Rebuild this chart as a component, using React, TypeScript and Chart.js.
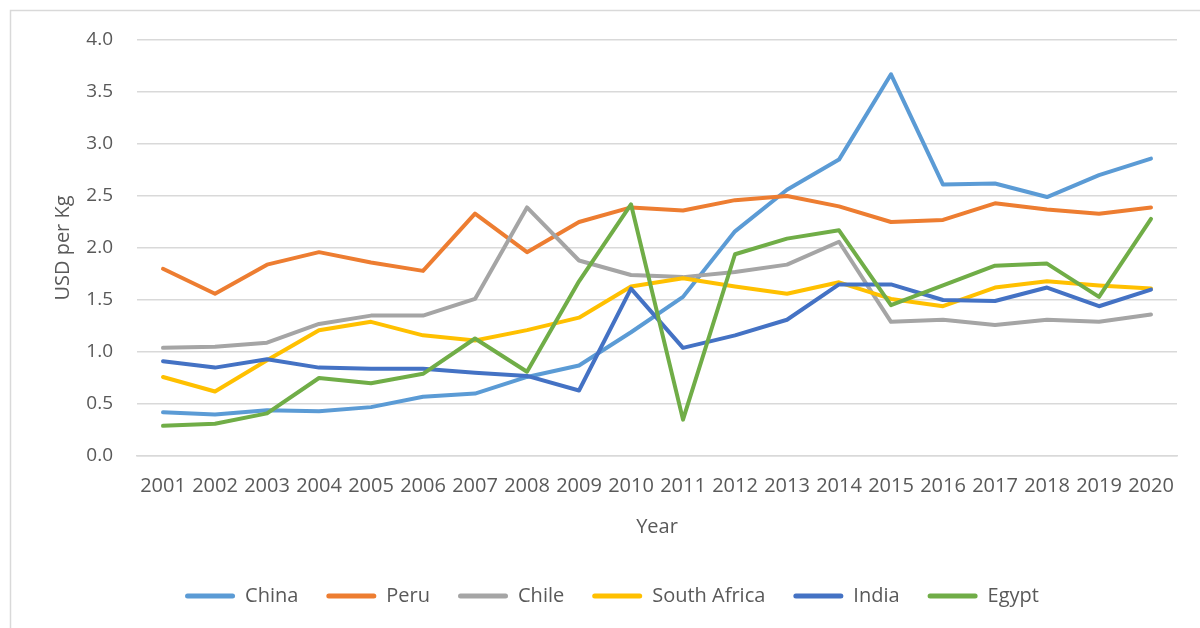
import React, { useEffect, useRef } from "react";
import { Chart, registerables } from "chart.js";

Chart.register(...registerables);

const years = ["2001","2002","2003","2004","2005","2006","2007","2008","2009","2010","2011","2012","2013","2014","2015","2016","2017","2018","2019","2020"];

const china = [0.42, 0.40, 0.44, 0.43, 0.47, 0.57, 0.60, 0.76, 0.87, 1.19, 1.53, 2.16, 2.56, 2.85, 3.67, 2.61, 2.62, 2.49, 2.70, 2.86];
const peru = [1.80, 1.56, 1.84, 1.96, 1.86, 1.78, 2.33, 1.96, 2.25, 2.39, 2.36, 2.46, 2.50, 2.40, 2.25, 2.27, 2.43, 2.37, 2.33, 2.39];
const chile = [1.04, 1.05, 1.09, 1.27, 1.35, 1.35, 1.51, 2.39, 1.88, 1.74, 1.72, 1.77, 1.84, 2.06, 1.29, 1.31, 1.26, 1.31, 1.29, 1.36];
const southAfrica = [0.76, 0.62, 0.92, 1.21, 1.29, 1.16, 1.11, 1.21, 1.33, 1.63, 1.71, 1.63, 1.56, 1.67, 1.51, 1.44, 1.62, 1.68, 1.64, 1.61];
const india = [0.91, 0.85, 0.93, 0.85, 0.84, 0.84, 0.80, 0.77, 0.63, 1.61, 1.04, 1.16, 1.31, 1.65, 1.65, 1.50, 1.49, 1.62, 1.44, 1.60];
const egypt = [0.29, 0.31, 0.41, 0.75, 0.70, 0.79, 1.13, 0.81, 1.68, 2.42, 0.35, 1.94, 2.09, 2.17, 1.45, 1.64, 1.83, 1.85, 1.53, 2.28];

const seriesNames = ["China", "Peru", "Chile", "South Africa", "India", "Egypt"];
const seriesData = [china, peru, chile, southAfrica, india, egypt];
const seriesColors = ["#5B9BD5", "#ED7D31", "#A5A5A5", "#FFC000", "#4472C4", "#70AD47"];

const FONT = "'Open Sans', 'Noto Sans', sans-serif";
const TEXT = "#595959";
const GRID = "#D9D9D9";

const borderPlugin = {
  id: "outerBorder",
  beforeDraw(chart: any) {
    const ctx = chart.ctx;
    ctx.save();
    ctx.fillStyle = "#ffffff";
    ctx.fillRect(0, 0, chart.width, chart.height);
    ctx.strokeStyle = GRID;
    ctx.lineWidth = 1.5;
    ctx.strokeRect(10.5, 10.5, chart.width + 20, chart.height + 20);
    ctx.restore();
  },
};

export default function App() {
  const ref = useRef<HTMLCanvasElement | null>(null);

  useEffect(() => {
    if (!ref.current) return;
    const n = seriesNames.length;
    const chart = new Chart(ref.current, {
      type: "line",
      data: {
        labels: years,
        datasets: seriesNames.map((name, i) => ({
          label: name,
          data: seriesData[i],
          borderColor: seriesColors[i],
          backgroundColor: seriesColors[i],
          borderWidth: 4,
          pointRadius: 0,
          tension: 0,
          borderCapStyle: "round" as const,
          borderJoinStyle: "round" as const,
          fill: false,
          order: n - i,
        })),
      },
      options: {
        animation: false,
        responsive: false,
        maintainAspectRatio: false,
        layout: { padding: { left: 47, right: 23, top: 40, bottom: 12 } },
        plugins: {
          tooltip: { enabled: false },
          legend: {
            position: "bottom",
            labels: {
              color: TEXT,
              font: { family: FONT, size: 20 },
              boxWidth: 50,
              boxHeight: 5,
              padding: 28,
              sort: (a: any, b: any) => a.datasetIndex - b.datasetIndex,
              generateLabels: (c: any) =>
                c.data.datasets.map((ds: any, i: number) => ({
                  text: ds.label,
                  fillStyle: ds.borderColor,
                  strokeStyle: ds.borderColor,
                  lineWidth: 0,
                  fontColor: TEXT,
                  datasetIndex: i,
                  hidden: false,
                  borderRadius: 2.5,
                })),
            },
          },
        },
        scales: {
          x: {
            offset: true,
            grid: { display: false, drawTicks: false },
            border: { display: true, color: GRID, width: 1.5 },
            ticks: {
              color: TEXT,
              font: { family: FONT, size: 20 },
              maxRotation: 0,
              autoSkip: false,
              padding: 18,
            },
            title: {
              display: true,
              text: "Year",
              color: TEXT,
              font: { family: FONT, size: 20 },
              padding: { top: 0, bottom: 19 },
            },
            afterFit: (s: any) => {
              s.height = 102;
            },
          },
          y: {
            min: 0,
            max: 4,
            grid: { color: GRID, lineWidth: 1.5, drawTicks: false },
            border: { display: false },
            ticks: {
              stepSize: 0.5,
              color: TEXT,
              font: { family: FONT, size: 19 },
              padding: 24,
              callback: (v: any) => Number(v).toFixed(1),
            },
            title: {
              display: true,
              text: "USD per Kg",
              color: TEXT,
              font: { family: FONT, size: 20 },
              padding: { top: 4, bottom: 0 },
            },
            afterFit: (s: any) => {
              s.width = 90;
            },
          },
        },
      },
      plugins: [borderPlugin],
    });
    return () => chart.destroy();
  }, []);

  return (
    <div style={{ position: "fixed", left: 0, top: 0, width: 1200, height: 628, background: "#fff" }}>
      <canvas ref={ref} width={1200} height={628} style={{ display: "block", width: 1200, height: 628 }} />
    </div>
  );
}
